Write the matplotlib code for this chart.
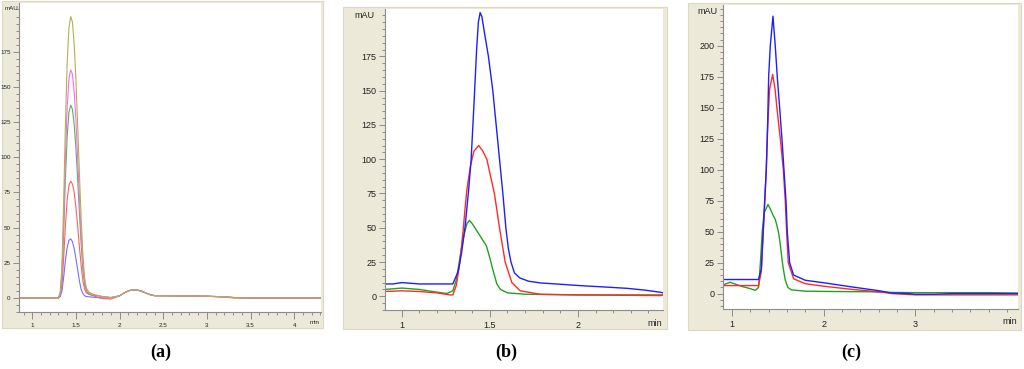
import matplotlib.pyplot as plt
from matplotlib.patches import Rectangle
from matplotlib.ticker import MultipleLocator, FixedLocator

W, H = 1024, 369

# ---- panel (a): five injections, common time grid (min) ----
a_time = [0.85, 1.00, 1.20, 1.30, 1.32, 1.34, 1.36, 1.38, 1.40, 1.42, 1.44, 1.46,
          1.48, 1.50, 1.52, 1.54, 1.56, 1.58, 1.60, 1.62, 1.65, 1.70, 1.80, 1.90,
          2.00, 2.05, 2.10, 2.15, 2.20, 2.25, 2.30, 2.35, 2.40, 2.60, 3.00, 3.20,
          3.30, 3.50, 4.30]
a_blue = [0, 0, 0, 0, 1, 5, 15, 27, 36, 41, 42, 40, 35, 28, 20, 12, 6, 3, 1.5, 1,
          0.8, 0.5, 0, 0, 1.5, 3.5, 5, 5.8, 5.6, 4.8, 3.5, 2.3, 1.6, 1.5, 1.2, 0.8,
          0.3, 0, 0]
a_red = [0, 0, 0, 0, 2, 9, 29, 52, 70, 80, 83, 81, 75, 64, 51, 36, 23, 12, 6, 3.5,
         2.5, 1.5, -0.5, -0.8, 1.5, 3.5, 5, 5.8, 5.6, 4.8, 3.5, 2.3, 1.6, 1.5, 1.2,
         0.5, 0, -0.3, -0.3]
a_green = [0, 0, 0, 0, 3, 15, 48, 86, 115, 132, 137, 134, 123, 106, 84, 60, 38, 20,
           9, 5, 3, 2, 1, 0.2, 1.5, 3.5, 5, 5.8, 5.6, 4.8, 3.5, 2.3, 1.6, 1.5, 1.2,
           0.8, 0.3, 0, 0]
a_magenta = [0, 0, 0, 0, 3, 18, 57, 101, 136, 156, 162, 159, 146, 126, 99, 71, 45,
             24, 11, 6, 3.5, 2.3, 1, 0.3, 1.5, 3.5, 5, 5.8, 5.6, 4.8, 3.5, 2.3, 1.6,
             1.5, 1.2, 0.8, 0.3, 0, 0]
a_olive = [0, 0, 0, 0, 4, 22, 70, 125, 168, 192, 200, 196, 180, 155, 122, 88, 56,
           30, 14, 7, 4, 2.5, 1, 0.3, 1.5, 3.5, 5, 5.8, 5.6, 4.8, 3.5, 2.3, 1.6, 1.5,
           1.2, 0.8, 0.3, 0, 0]

# ---- panel (b) ----
b_blue_t = [0.905, 0.95, 1.00, 1.05, 1.10, 1.20, 1.29, 1.32, 1.34, 1.36, 1.38, 1.394,
            1.41, 1.425, 1.435, 1.445, 1.455, 1.47, 1.492, 1.517, 1.536, 1.555, 1.574,
            1.591, 1.605, 1.62, 1.64, 1.67, 1.72, 1.79, 1.90, 2.01, 2.15, 2.28, 2.38,
            2.47, 2.483]
b_blue = [9, 9, 10, 9.5, 9, 9, 9, 18, 32, 51, 78, 100, 140, 180, 200, 207, 204, 192,
          175, 150, 125, 100, 75, 50, 35, 25, 17, 13.4, 11, 9.7, 8.8, 7.8, 6.8, 5.8,
          4.5, 2.9, 2.5]
b_red_t = [0.905, 1.00, 1.10, 1.20, 1.274, 1.29, 1.31, 1.33, 1.35, 1.36, 1.37, 1.39,
           1.41, 1.437, 1.46, 1.483, 1.50, 1.526, 1.555, 1.587, 1.625, 1.672, 1.786,
           2.00, 2.47, 2.483]
b_red = [3.5, 4, 3.5, 2.5, 1, 1, 8, 25, 50, 65, 78, 95, 106, 110, 106, 100, 90, 75,
         50, 25, 10, 4, 1.5, 1, 0.5, 1]
b_green_t = [0.905, 1.00, 1.10, 1.20, 1.256, 1.29, 1.31, 1.33, 1.35, 1.37, 1.384,
             1.40, 1.42, 1.44, 1.46, 1.48, 1.50, 1.52, 1.54, 1.56, 1.60, 1.70, 2.00,
             2.483]
b_green = [5, 6, 5, 3, 2, 4, 12, 28, 43, 53, 55.4, 53, 49, 45, 41, 37, 28, 18, 9, 5,
           2.5, 1.5, 1, 1]

# ---- panel (c) ----
c_blue_t = [0.902, 1.10, 1.29, 1.32, 1.34, 1.36, 1.374, 1.39, 1.40, 1.418, 1.447,
            1.472, 1.494, 1.52, 1.545, 1.567, 1.589, 1.603, 1.629, 1.672, 1.80, 2.018,
            2.309, 2.60, 2.745, 2.90, 3.00, 3.20, 3.40, 4.12]
c_blue = [11.4, 11.4, 11.4, 20, 50, 80, 100, 140, 175, 200, 224, 200, 175, 150, 125,
          100, 75, 50, 25, 15, 10.8, 8.6, 5.4, 2.4, 0.5, 0.2, -0.5, -0.5, 0, 0]
c_red_t = [0.902, 1.10, 1.29, 1.32, 1.34, 1.36, 1.374, 1.39, 1.41, 1.444, 1.47, 1.49,
           1.527, 1.56, 1.581, 1.596, 1.614, 1.672, 1.80, 2.00, 2.30, 2.60, 2.75, 3.00,
           4.12]
c_red = [6.5, 6.5, 6.5, 18, 48, 78, 100, 135, 165, 177, 165, 150, 125, 100, 75, 50,
         25, 12, 8, 6, 3.5, 1.5, 0, -1, -1]
c_green_t = [0.902, 0.98, 1.10, 1.20, 1.254, 1.29, 1.31, 1.33, 1.35, 1.393, 1.42,
             1.45, 1.472, 1.49, 1.509, 1.53, 1.545, 1.56, 1.581, 1.61, 1.65, 1.80,
             2.00, 2.50, 2.70, 3.00, 3.80, 4.12]
c_green = [7, 9.2, 6, 4, 2.7, 5, 25, 50, 65, 72, 68, 63, 60, 55, 49, 38, 28, 20, 11,
           5, 3, 2, 1.8, 1.5, 1, 0.8, 0.8, 0.5]

BEIGE = '#ECE9D8'
GREY = '#8C8C8C'


def fig_rect(x0, y0, x1, y1):
    # pixel box (top-left origin) -> figure fraction
    return [x0 / W, 1 - y1 / H, (x1 - x0) / W, (y1 - y0) / H]


def setup(ax, xlim, ylim, xmajor, xminor, fs):
    ax.set_xlim(*xlim)
    ax.set_ylim(*ylim)
    ax.set_facecolor('white')
    for s in ['top', 'right']:
        ax.spines[s].set_visible(False)
    for s in ['left', 'bottom']:
        ax.spines[s].set_color(GREY)
        ax.spines[s].set_linewidth(0.8)
    yt = [0, 25, 50, 75, 100, 125, 150, 175, 200] if ylim[1] > 210 else \
        [0, 25, 50, 75, 100, 125, 150, 175]
    ax.yaxis.set_major_locator(FixedLocator(yt))
    ax.yaxis.set_minor_locator(MultipleLocator(5))
    ax.xaxis.set_major_locator(FixedLocator(xmajor))
    ax.xaxis.set_minor_locator(MultipleLocator(xminor))
    ax.tick_params(which='both', direction='out', colors=GREY, labelcolor='#222222',
                   labelsize=fs, width=0.7)
    ax.tick_params(which='major', length=4, pad=2)
    ax.tick_params(which='minor', length=2.2)
    ax.tick_params(axis='x', which='major', length=5, pad=3)
    ax.set_xticks(xmajor, [('%g' % v) for v in xmajor], fontfamily='Liberation Sans')
    ax.set_yticks(yt, [str(v) for v in yt], fontfamily='Liberation Sans')


fig = plt.figure(figsize=(W / 100, H / 100), dpi=100)

# beige instrument frames
for (x0, y0, x1, y1) in [(2, 1, 323, 328), (343, 7, 667, 329), (688, 3, 1021, 330)]:
    fig.patches.append(Rectangle((x0 / W, 1 - y1 / H), (x1 - x0) / W, (y1 - y0) / H,
                                 transform=fig.transFigure, facecolor=BEIGE,
                                 edgecolor='#DCD8C4', linewidth=0.8, zorder=-10))

# (a)
ax_a = fig.add_axes(fig_rect(19, 3, 321, 312))
setup(ax_a, (0.848, 4.306), (-10, 209.6), [1, 1.5, 2, 2.5, 3, 3.5, 4], 0.1, 4.5)
for y, c in [(a_blue, '#7070FF'), (a_red, '#FF6060'), (a_green, '#5DB05D'),
             (a_magenta, '#FF66FF'), (a_olive, '#B4B050')]:
    ax_a.plot(a_time, y, color=c, linewidth=0.8)
fig.text(12 / W, 1 - 9 / H, 'mAU', fontsize=4.5, ha='center', va='center',
         family='Liberation Sans', color='#222222')
fig.text(315 / W, 1 - 323 / H, 'min', fontsize=4.5, ha='center', va='center',
         family='Liberation Sans', color='#222222')

# (b)
ax_b = fig.add_axes(fig_rect(385, 9, 663, 310))
setup(ax_b, (0.905, 2.483), (-10, 209.6), [1, 1.5, 2], 0.1, 6.5)
for t, y, c in [(b_green_t, b_green, '#22A022'), (b_red_t, b_red, '#FF2A2A'),
                (b_blue_t, b_blue, '#1E1EFF')]:
    ax_b.plot(t, y, color=c, linewidth=1.0)
fig.text(364 / W, 1 - 16 / H, 'mAU', fontsize=6.5, ha='center', va='center',
         family='Liberation Sans', color='#222222')
fig.text(655 / W, 1 - 323 / H, 'min', fontsize=6.5, ha='center', va='center',
         family='Liberation Sans', color='#222222')

# (c)
ax_c = fig.add_axes(fig_rect(723, 5, 1018, 309))
setup(ax_c, (0.902, 4.12), (-12.4, 233), [1, 2, 3], 0.2, 6.5)
for t, y, c in [(c_green_t, c_green, '#22A022'), (c_red_t, c_red, '#FF2A2A'),
                (c_blue_t, c_blue, '#1E1EFF')]:
    ax_c.plot(t, y, color=c, linewidth=1.0)
fig.text(707 / W, 1 - 12 / H, 'mAU', fontsize=6.5, ha='center', va='center',
         family='Liberation Sans', color='#222222')
fig.text(1010 / W, 1 - 321 / H, 'min', fontsize=6.5, ha='center', va='center',
         family='Liberation Sans', color='#222222')

# panel captions
for x, s in [(161, '(a)'), (506, '(b)'), (851, '(c)')]:
    fig.text(x / W, 1 - 352 / H, s, fontsize=13, fontweight='bold', ha='center',
             va='center', family='Liberation Serif')

fig.savefig('out.png', dpi=100, facecolor='white')
